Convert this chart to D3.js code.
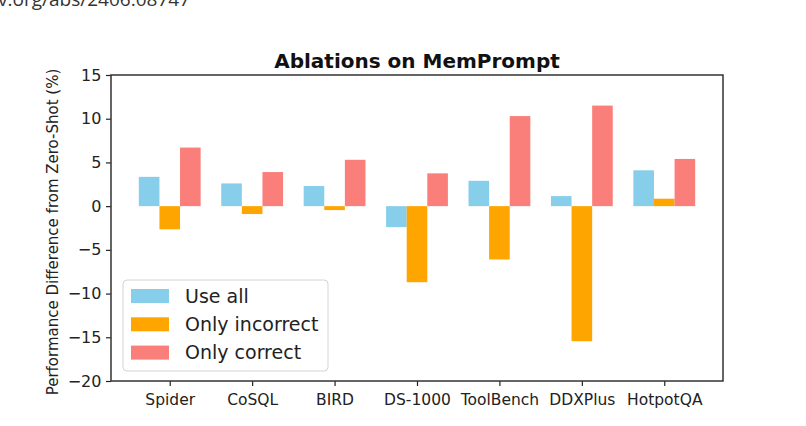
<!DOCTYPE html>
<html>
<head>
<meta charset="utf-8">
<script src="https://cdn.jsdelivr.net/npm/d3@7"></script>
<style>
  body { margin: 0; background: #fff; }
  svg { display: block; }
  text { font-family: "DejaVu Sans", sans-serif; fill: #222; }
</style>
</head>
<body>
<div id="chart"></div>
<script>
const categories = ["Spider", "CoSQL", "BIRD", "DS-1000", "ToolBench", "DDXPlus", "HotpotQA"];
const seriesNames = ["Use all", "Only incorrect", "Only correct"];
const useAll = [3.35, 2.6, 2.3, -2.4, 2.9, 1.15, 4.1];
const onlyIncorrect = [-2.65, -0.9, -0.45, -8.7, -6.1, -15.45, 0.85];
const onlyCorrect = [6.7, 3.9, 5.3, 3.75, 10.3, 11.5, 5.4];
const yTicks = [15, 10, 5, 0, -5, -10, -15, -20];

const colors = ["#87ceeb", "#ffa500", "#fa7f7a"];
const width = 806, height = 426;
const margin = { top: 75, right: 83, bottom: 45, left: 111 };
const chartWidth = width - margin.left - margin.right;
const chartHeight = height - margin.top - margin.bottom;

const svg = d3.select("#chart")
  .append("svg")
  .attr("width", width)
  .attr("height", height);

// screenshot caption, cut off at the top like in the source
svg.append("text")
  .attr("x", 190)
  .attr("y", 6)
  .attr("text-anchor", "end")
  .style("font-family", "'Open Sans', sans-serif")
  .style("font-size", "19px")
  .style("fill", "#333")
  .text("arXiv.org/abs/2406.08747");

const g = svg.append("g")
  .attr("transform", "translate(" + margin.left + "," + margin.top + ")");

const barW = 0.25;
const x = d3.scaleLinear()
  .domain([-0.7125, categories.length - 1 + 0.7125])
  .range([0, chartWidth]);
const y = d3.scaleLinear()
  .domain([-20, 15])
  .range([chartHeight, 0]);

const series = [useAll, onlyIncorrect, onlyCorrect];
series.forEach((vals, s) => {
  g.selectAll(".bar" + s)
    .data(vals)
    .enter()
    .append("rect")
    .attr("class", "bar" + s)
    .attr("x", (d, i) => x(i + (s - 1) * barW - barW / 2))
    .attr("width", x(barW) - x(0))
    .attr("y", d => y(Math.max(0, d)))
    .attr("height", d => Math.abs(y(d) - y(0)))
    .attr("fill", colors[s]);
});

// axes
const xAxis = g.append("g")
  .attr("transform", "translate(0," + chartHeight + ")")
  .call(d3.axisBottom(x).tickValues(d3.range(categories.length)).tickFormat(i => categories[i]).tickSize(5).tickSizeOuter(0));
xAxis.selectAll("text").style("font-size", "15.5px").attr("dy", "1.05em");

const yAxis = g.append("g")
  .call(d3.axisLeft(y).tickValues(yTicks).tickFormat(d => d < 0 ? "\u2212" + Math.abs(d) : d).tickSize(5).tickSizeOuter(0));
yAxis.selectAll("text").style("font-size", "16px").attr("dx", "-0.1em");
g.selectAll(".domain").remove();
g.selectAll(".tick line").attr("stroke", "#222").attr("stroke-width", 1.2);

g.append("rect")
  .attr("width", chartWidth)
  .attr("height", chartHeight)
  .attr("fill", "none")
  .attr("stroke", "#333")
  .attr("stroke-width", 1.5);

svg.append("text")
  .attr("x", margin.left + chartWidth / 2)
  .attr("y", 68)
  .attr("text-anchor", "middle")
  .style("font-size", "20px")
  .style("font-weight", "bold")
  .style("fill", "#111")
  .text("Ablations on MemPrompt");

svg.append("text")
  .attr("transform", "translate(58,232) rotate(-90)")
  .attr("text-anchor", "middle")
  .style("font-size", "15px")
  .text("Performance Difference from Zero-Shot (%)");

// legend
const legend = svg.append("g").attr("transform", "translate(123,280)");
legend.append("rect")
  .attr("width", 205)
  .attr("height", 91)
  .attr("rx", 4)
  .attr("fill", "rgba(255,255,255,0.85)")
  .attr("stroke", "#d4d4d4");
seriesNames.forEach((name, i) => {
  const row = legend.append("g").attr("transform", "translate(8," + (16 + i * 28.3) + ")");
  row.append("rect")
    .attr("y", -7)
    .attr("width", 38)
    .attr("height", 14)
    .attr("fill", colors[i]);
  row.append("text")
    .attr("x", 54)
    .attr("dy", "0.35em")
    .style("font-size", "19px")
    .text(name);
});
</script>
</body>
</html>
